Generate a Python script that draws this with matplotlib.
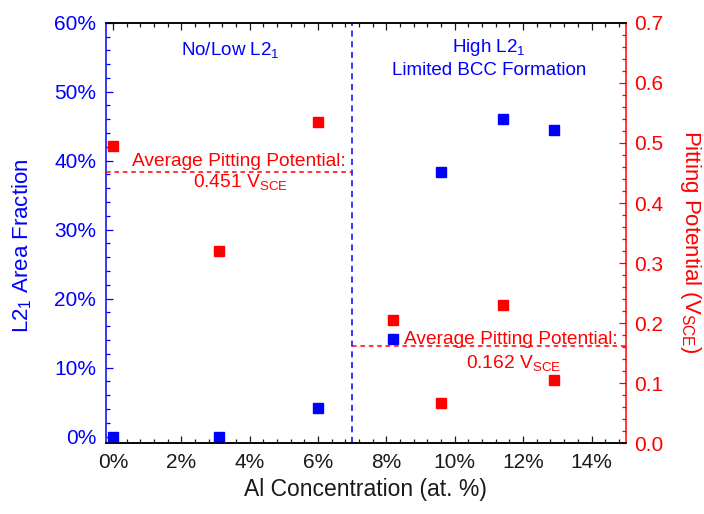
"""
L2_1 area fraction and pitting potential vs Al concentration
"""
import matplotlib
matplotlib.use('Agg')
import matplotlib.pyplot as plt
from matplotlib.ticker import MultipleLocator, PercentFormatter, FormatStrFormatter

plt.rcParams['font.family'] = ['Liberation Sans', 'DejaVu Sans']
plt.rcParams['mathtext.fontset'] = 'custom'
plt.rcParams['mathtext.rm'] = 'Liberation Sans'
plt.rcParams['mathtext.default'] = 'regular'

# data
al_conc = [0.0, 3.1, 6.0, 8.2, 9.6, 11.4, 12.9]          # at. %
l21_fraction = [0.0, 0.0, 0.042, 0.142, 0.384, 0.460, 0.444]
pitting_potential = [0.495, 0.321, 0.535, 0.206, 0.067, 0.230, 0.105]  # V_SCE

boundary = 7.0
avg_low = 0.451
avg_high = 0.162
avg_low_label = '0.451 V$_{SCE}$'
avg_high_label = '0.162 V$_{SCE}$'

BLUE = '#0000FF'
RED = '#FF0000'

fig = plt.figure(figsize=(7.04, 5.14), dpi=100)
ax = fig.add_axes([0.1506, 0.1372, 0.7382, 0.8186])
ax2 = ax.twinx()

# points
ax.plot(al_conc, l21_fraction, 's', color=BLUE, markersize=7.2, zorder=5)
ax2.plot(al_conc, pitting_potential, 's', color=RED, markersize=7.2, zorder=5)

# limits / ticks
ax.set_xlim(-0.2, 15)
ax.set_ylim(-0.01, 0.6)
ax2.set_ylim(0, 0.7)

ax.xaxis.set_major_locator(MultipleLocator(2))
ax.xaxis.set_minor_locator(MultipleLocator(0.4))
ax.xaxis.set_major_formatter(PercentFormatter(100, decimals=0))
ax.yaxis.set_major_locator(MultipleLocator(0.1))
ax.yaxis.set_minor_locator(MultipleLocator(0.02))
ax.yaxis.set_major_formatter(PercentFormatter(1, decimals=0))
ax2.yaxis.set_major_locator(MultipleLocator(0.1))
ax2.yaxis.set_minor_locator(MultipleLocator(0.02))
ax2.yaxis.set_major_formatter(FormatStrFormatter('%.1f'))

ax.tick_params(axis='x', which='both', direction='in', top=True, bottom=True,
               colors='#1a1a1a', labelsize=15, pad=7, width=0.9)
ax.tick_params(axis='y', which='both', direction='in', left=True, right=False,
               colors=BLUE, labelsize=15, pad=7, width=0.9)
ax2.tick_params(axis='y', which='both', direction='in', right=True, left=False,
                colors=RED, labelsize=15, pad=6, width=0.9)
for a in (ax, ax2):
    a.tick_params(which='major', length=5)
    a.tick_params(which='minor', length=3)

# spines
for a in (ax, ax2):
    for s in a.spines.values():
        s.set_linewidth(1.1)
    a.spines['top'].set_color('black')
    a.spines['bottom'].set_color('black')
ax.spines['left'].set_color(BLUE)
ax2.spines['left'].set_visible(False)
ax.spines['right'].set_visible(False)
ax2.spines['right'].set_color(RED)

# boundary and averages
ax.axvline(boundary, color=BLUE, linestyle=(0, (4, 3)), linewidth=1.1, zorder=3)
ax2.plot([-0.2, boundary], [avg_low, avg_low], color=RED, linestyle=(0, (3, 2.5)), linewidth=1.1)
ax2.plot([boundary, 15], [avg_high, avg_high], color=RED, linestyle=(0, (3, 2.5)), linewidth=1.1)

# annotations
ax.text(3.43, 0.560, 'No/Low L2$_1$', color=BLUE, fontsize=13.5, ha='center', va='center')
ax.text(11.0, 0.549, 'High L2$_1$\nLimited BCC Formation', color=BLUE, fontsize=13.5,
        ha='center', va='center', linespacing=1.25)
ax2.text(6.8, 0.462, 'Average Pitting Potential:', color=RED, fontsize=13.8, ha='right', va='baseline')
ax2.text(3.72, 0.426, avg_low_label, color=RED, fontsize=13.8, ha='center', va='baseline')
ax2.text(14.77, 0.165, 'Average Pitting Potential:', color=RED, fontsize=13.8, ha='right', va='baseline')
ax2.text(11.71, 0.125, avg_high_label, color=RED, fontsize=13.8, ha='center', va='baseline')

# axis labels
ax.set_xlabel('Al Concentration (at. %)', fontsize=16.5, color='#1a1a1a', va='center')
ax.xaxis.set_label_coords(0.5, -0.11)
ax.set_ylabel('L2$_1$ Area Fraction', fontsize=16, color=BLUE, va='center')
ax.yaxis.set_label_coords(-0.162, 0.47)
ax2.set_ylabel('Pitting Potential (V$_{SCE}$)', fontsize=16, color=RED, rotation=270, va='center')
ax2.yaxis.set_label_coords(1.124, 0.48)

fig.savefig('out.png', dpi=100)
